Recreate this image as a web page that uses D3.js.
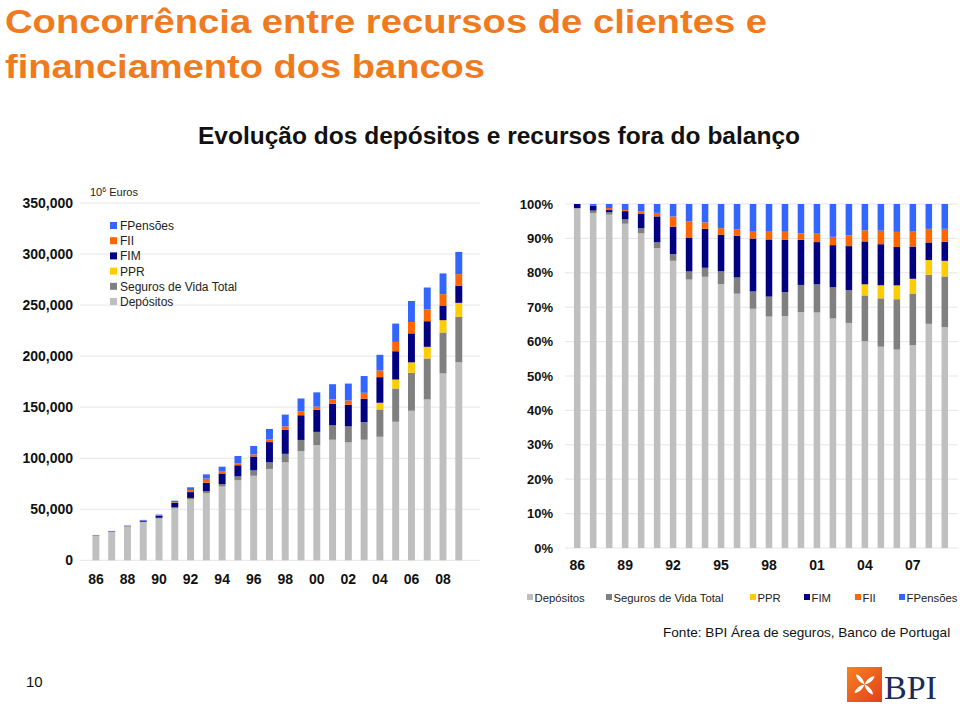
<!DOCTYPE html>
<html>
<head>
<meta charset="utf-8">
<script src="https://cdn.jsdelivr.net/npm/d3@7"></script>
<style>
  body { margin: 0; background: #fff; font-family: "Liberation Sans", Arial, sans-serif; }
  svg { display: block; }
</style>
</head>
<body>
<div id="app"></div>
<script>
// data (10^6 euros), one value per year 1986..2009
const years = d3.range(1986, 2010);
const depositos = [24.5, 28.0, 33.0, 37.3, 41.0, 50.9, 59.7, 65.7, 72.3, 78.4, 82.8, 89.5, 96.0, 106.9, 112.8, 118.1, 115.5, 118.1, 121.0, 135.7, 146.5, 157.6, 183.1, 193.9];
const seguros = [0, 0.2, 0.25, 0.5, 0.67, 1.0, 1.4, 2.0, 2.4, 3.8, 5.3, 6.5, 8.3, 11.0, 13.0, 14.1, 15.7, 17.2, 26.8, 32.6, 37.2, 40.1, 40.1, 44.6];
const ppr = [0, 0, 0, 0, 0, 0, 0, 0, 0, 0, 0, 0, 0, 0, 0, 0, 0, 0, 6.5, 8.8, 10.2, 11.4, 12.0, 13.7];
const fim = [0.3, 0.4, 0.2, 0.95, 1.9, 4.4, 5.7, 8.3, 10.4, 10.9, 13.6, 19.8, 23.7, 24.2, 21.6, 21.2, 21.2, 23.1, 25.1, 27.7, 28.4, 25.1, 14.4, 16.6];
const fii = [0, 0, 0.2, 0.12, 0.3, 0.6, 2.1, 4.0, 1.7, 1.9, 2.1, 2.8, 3.2, 3.6, 3.1, 4.2, 4.2, 5.7, 6.5, 9.1, 11.1, 11.5, 11.1, 11.5];
const fpensoes = [0, 0.15, 0.4, 0.7, 0.95, 1.5, 2.6, 4.2, 4.9, 7.2, 8.2, 10.1, 11.5, 12.8, 14.0, 14.9, 16.5, 16.4, 15.4, 18.0, 20.6, 21.5, 20.3, 21.8];

const keys = ["Depósitos", "Seguros de Vida Total", "PPR", "FIM", "FII", "FPensões"];
const colors = ["#bfbfbf", "#808080", "#ffcc00", "#000080", "#ff6600", "#3366ff"];
const leftTicks = [0, 50000, 100000, 150000, 200000, 250000, 300000, 350000];
const leftYearLabels = ["86", "88", "90", "92", "94", "96", "98", "00", "02", "04", "06", "08"];
const rightTicks = [0, 0.1, 0.2, 0.3, 0.4, 0.5, 0.6, 0.7, 0.8, 0.9, 1];
const rightYearLabels = ["86", "89", "92", "95", "98", "01", "04", "07"];

const table = years.map((y, i) => ({
  year: y,
  "Depósitos": depositos[i] * 1000,
  "Seguros de Vida Total": seguros[i] * 1000,
  "PPR": ppr[i] * 1000,
  "FIM": fim[i] * 1000,
  "FII": fii[i] * 1000,
  "FPensões": fpensoes[i] * 1000
}));

const color = d3.scaleOrdinal().domain(keys).range(colors);
const short = (y) => String(y).slice(2);

const svg = d3.select("#app").append("svg").attr("width", 960).attr("height", 707);

//titles (the original type is wider than Liberation Sans, so stretch to its width)
svg.append("text").attr("x", 5).attr("y", 33)
  .attr("textLength", 762).attr("lengthAdjust", "spacingAndGlyphs")
  .style("font-size", "34px").style("font-weight", "bold").attr("fill", "#f07b1e")
  .text("Concorrência entre recursos de clientes e");
svg.append("text").attr("x", 5).attr("y", 78)
  .attr("textLength", 480).attr("lengthAdjust", "spacingAndGlyphs")
  .style("font-size", "34px").style("font-weight", "bold").attr("fill", "#f07b1e")
  .text("financiamento dos bancos");
svg.append("text").attr("x", 198).attr("y", 144)
  .attr("textLength", 602).attr("lengthAdjust", "spacingAndGlyphs")
  .style("font-size", "23px").style("font-weight", "bold").attr("fill", "#111")
  .text("Evolução dos depósitos e recursos fora do balanço");

//left chart: absolute values
const stackAbs = d3.stack().keys(keys)(table);

const xL = d3.scaleBand().domain(years).range([83.6, 471.1]).padding(0.56);
const yL = d3.scaleLinear().domain([0, 350000]).range([560.3, 203]);

const gL = svg.append("g");
gL.selectAll("line.grid").data(leftTicks).enter().append("line")
  .attr("x1", 80).attr("x2", 480)
  .attr("y1", (d) => yL(d)).attr("y2", (d) => yL(d))
  .attr("stroke", "#e6e6e6").attr("stroke-width", 1);

const yAxisL = d3.axisLeft(yL).tickValues(leftTicks).tickSize(0).tickPadding(0)
  .tickFormat((d) => d === 0 ? "0" : d3.format(",")(d));
gL.append("g").attr("transform", "translate(73,0)").call(yAxisL)
  .call((g) => g.select(".domain").remove())
  .selectAll("text").style("font-size", "14px").style("font-weight", "bold")
  .attr("fill", "#111").style("font-family", "Liberation Sans, Arial, sans-serif");

gL.selectAll("g.layer").data(stackAbs).enter().append("g")
  .attr("fill", (d) => color(d.key))
  .selectAll("rect").data((d) => d).enter().append("rect")
  .attr("x", (d) => xL(d.data.year))
  .attr("width", xL.bandwidth())
  .attr("y", (d) => yL(d[1]))
  .attr("height", (d) => yL(d[0]) - yL(d[1]));

const xAxisL = d3.axisBottom(xL).tickSize(0).tickPadding(0)
  .tickValues(years.filter((y) => leftYearLabels.includes(short(y)) && y < 2009))
  .tickFormat(short);
gL.append("g").attr("transform", "translate(0,574)").call(xAxisL)
  .call((g) => g.select(".domain").remove())
  .selectAll("text").style("font-size", "14px").style("font-weight", "bold")
  .attr("fill", "#111").style("font-family", "Liberation Sans, Arial, sans-serif");

//unit label
const unit = gL.append("text").attr("x", 90).attr("y", 196).style("font-size", "11px").attr("fill", "#222");
unit.append("tspan").text("10");
unit.append("tspan").attr("dy", -4).style("font-size", "7px").text("6");
unit.append("tspan").attr("dy", 4).text(" Euros");

//left legend (reverse order)
const legL = gL.selectAll("g.leg").data(keys.slice().reverse()).enter().append("g")
  .attr("transform", (d, i) => `translate(110,${226 + i * 15.2})`);
legL.append("rect").attr("x", 0).attr("y", -4).attr("width", 7).attr("height", 7)
  .attr("fill", (d) => color(d));
legL.append("text").attr("x", 10).attr("y", 4).style("font-size", "12px").attr("fill", "#222")
  .text((d) => d);

//right chart: shares
const stackPct = d3.stack().keys(keys).offset(d3.stackOffsetExpand)(table);

const xR = d3.scaleBand().domain(years).range([564.5, 957.5]).padding(0.59);
const yR = d3.scaleLinear().domain([0, 1]).range([548, 204]);

const gR = svg.append("g");
gR.selectAll("line.grid").data(rightTicks).enter().append("line")
  .attr("x1", 565).attr("x2", 958)
  .attr("y1", (d) => yR(d)).attr("y2", (d) => yR(d))
  .attr("stroke", "#e6e6e6").attr("stroke-width", 1);

const yAxisR = d3.axisLeft(yR).tickValues(rightTicks).tickSize(0).tickPadding(0)
  .tickFormat(d3.format(".0%"));
gR.append("g").attr("transform", "translate(553,0)").call(yAxisR)
  .call((g) => g.select(".domain").remove())
  .selectAll("text").style("font-size", "13px").style("font-weight", "bold")
  .attr("fill", "#111").style("font-family", "Liberation Sans, Arial, sans-serif");

gR.selectAll("g.layer").data(stackPct).enter().append("g")
  .attr("fill", (d) => color(d.key))
  .selectAll("rect").data((d) => d).enter().append("rect")
  .attr("x", (d) => xR(d.data.year))
  .attr("width", xR.bandwidth())
  .attr("y", (d) => yR(d[1]))
  .attr("height", (d) => yR(d[0]) - yR(d[1]));

const xAxisR = d3.axisBottom(xR).tickSize(0).tickPadding(0)
  .tickValues(years.filter((y) => rightYearLabels.includes(short(y))))
  .tickFormat(short);
gR.append("g").attr("transform", "translate(0,560)").call(xAxisR)
  .call((g) => g.select(".domain").remove())
  .selectAll("text").style("font-size", "14px").style("font-weight", "bold")
  .attr("fill", "#111").style("font-family", "Liberation Sans, Arial, sans-serif");

//right legend
const legPos = [527, 606, 750, 804, 855, 899];
const legR = gR.selectAll("g.leg").data(keys).enter().append("g")
  .attr("transform", (d, i) => `translate(${legPos[i]},597)`);
legR.append("rect").attr("x", 0).attr("y", -3).attr("width", 6).attr("height", 6)
  .attr("fill", (d) => color(d));
legR.append("text").attr("x", 7.5).attr("y", 4.5).style("font-size", "11.3px").attr("fill", "#222")
  .text((d) => d);

//source
svg.append("text").attr("x", 663).attr("y", 637).style("font-size", "13.6px").attr("fill", "#111")
  .text("Fonte: BPI Área de seguros, Banco de Portugal");

//page number
svg.append("text").attr("x", 26).attr("y", 687).style("font-size", "15px").attr("fill", "#111").text("10");

//logo
const defs = svg.append("defs");
const grad = defs.append("linearGradient").attr("id", "bpiGrad")
  .attr("x1", 0).attr("y1", 0).attr("x2", 1).attr("y2", 1);
grad.append("stop").attr("offset", "0%").attr("stop-color", "#f58220");
grad.append("stop").attr("offset", "100%").attr("stop-color", "#e2401c");
const logo = svg.append("g").attr("transform", "translate(847,667)");
logo.append("rect").attr("width", 35).attr("height", 35).attr("fill", "url(#bpiGrad)");
const petal = "M0,0 C-3,-5 -2,-11 0,-13 C2,-11 3,-5 0,0Z";
logo.selectAll("path").data([-40, 50, 140, 230]).enter().append("path")
  .attr("d", petal).attr("fill", "#fff")
  .attr("transform", (d) => `translate(17.5,17.5) rotate(${d})`);
svg.append("text").attr("x", 884).attr("y", 699)
  .style("font-family", "Liberation Serif, DejaVu Serif, serif").style("font-size", "34px")
  .attr("fill", "#1a2a5a").text("BPI");
</script>
</body>
</html>
